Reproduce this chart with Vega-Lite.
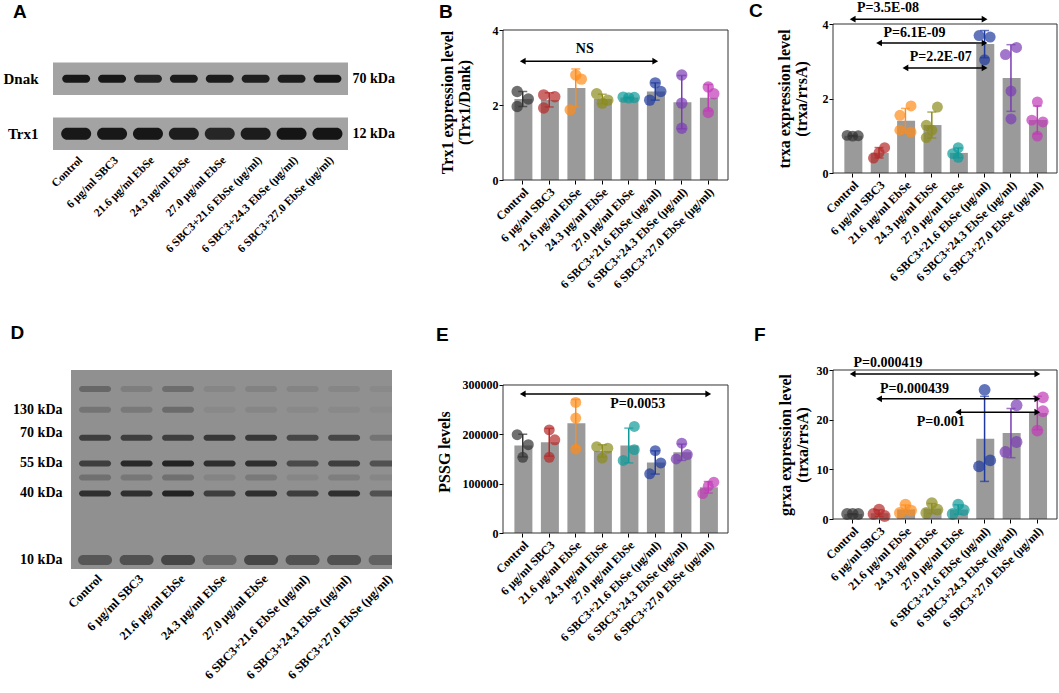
{
  "$schema": "https://vega.github.io/schema/vega-lite/v6.json",
  "background": "white",
  "padding": {"left": 0, "top": 0, "right": 0, "bottom": 0},
  "spacing": 33,
  "config": {
    "view": {"stroke": null},
    "font": "Liberation Serif",
    "axis": {
      "labelFont": "Liberation Serif", "labelFontWeight": "bold", "labelColor": "#000",
      "titleFont": "Liberation Serif", "titleFontWeight": "bold", "titleColor": "#000",
      "grid": false, "tickColor": "#000", "domainColor": "#000"
    },
    "axisX": {
      "labelAngle": -45,
      "labelExpr": "['Control','6 μg/ml SBC3','21.6 μg/ml EbSe','24.3 μg/ml EbSe','27.0 μg/ml EbSe','6 SBC3+21.6 EbSe (μg/ml)','6 SBC3+24.3 EbSe (μg/ml)','6 SBC3+27.0 EbSe (μg/ml)'][datum.value - 1]"
    },
    "title": {"font": "Liberation Sans", "fontSize": 19, "fontWeight": "bold", "anchor": "start", "frame": "bounds", "color": "#000"}
  },
  "vconcat": [
    {
      "bounds": "flush",
      "spacing": 0,
      "hconcat": [
        {"width": 53, "height": 1, "data": {"values": [{}]}, "mark": {"type": "point", "opacity": 0}, "encoding": {}},
        {
          "width": 295, "height": 126,
          "title": {"text": "A", "dx": 10, "offset": 2},
          "layer": [
            {
              "data": {"values": [{"protein": "Dnak"}, {"protein": "Trx1"}]},
              "mark": {"type": "rect", "fill": "#a3a3a3"},
              "encoding": {
                "y": {"field": "protein", "type": "nominal",
                  "scale": {"type": "band", "domain": ["Dnak", "Trx1"], "paddingInner": 0.409, "paddingOuter": 0.35, "align": 1},
                  "axis": null}
              }
            },
            {
              "data": {"values": [
                {"lane": 1, "protein": "Dnak", "i": 0.95}, {"lane": 2, "protein": "Dnak", "i": 0.95},
                {"lane": 3, "protein": "Dnak", "i": 0.88}, {"lane": 4, "protein": "Dnak", "i": 0.93},
                {"lane": 5, "protein": "Dnak", "i": 0.93}, {"lane": 6, "protein": "Dnak", "i": 0.9},
                {"lane": 7, "protein": "Dnak", "i": 0.93}, {"lane": 8, "protein": "Dnak", "i": 0.97}
              ]},
              "mark": {"type": "tick", "orient": "horizontal", "size": 28, "thickness": 8, "cornerRadius": 4, "color": "#111"},
              "encoding": {
                "x": {"field": "lane", "type": "ordinal", "scale": {"type": "point", "padding": 0.609, "align": 0.53},
                  "axis": {"title": null, "domain": false, "ticks": false, "labelFontSize": 11.5, "labelPadding": 4}},
                "y": {"field": "protein", "type": "nominal",
                  "axis": {"title": null, "ticks": false, "domain": false, "labelFontSize": 15, "labelPadding": 15}},
                "opacity": {"field": "i", "type": "quantitative", "scale": {"domain": [0, 1], "range": [0, 1]}, "legend": null}
              }
            },
            {
              "data": {"values": [
                {"lane": 1, "protein": "Trx1", "i": 0.95}, {"lane": 2, "protein": "Trx1", "i": 0.95},
                {"lane": 3, "protein": "Trx1", "i": 0.96}, {"lane": 4, "protein": "Trx1", "i": 0.92},
                {"lane": 5, "protein": "Trx1", "i": 0.85}, {"lane": 6, "protein": "Trx1", "i": 0.93},
                {"lane": 7, "protein": "Trx1", "i": 0.97}, {"lane": 8, "protein": "Trx1", "i": 0.97}
              ]},
              "mark": {"type": "tick", "orient": "horizontal", "size": 30, "thickness": 12, "cornerRadius": 6, "color": "#111"},
              "encoding": {
                "x": {"field": "lane", "type": "ordinal"},
                "y": {"field": "protein", "type": "nominal",
                  "axis": {"orient": "right", "title": null, "ticks": false, "domain": false, "labelFontSize": 14, "labelPadding": 4,
                    "labelExpr": "datum.value == 'Dnak' ? '70 kDa' : '12 kDa'"}},
                "opacity": {"field": "i", "type": "quantitative", "scale": {"domain": [0, 1], "range": [0, 1]}, "legend": null}
              }
            }
          ],
          "resolve": {"axis": {"y": "independent"}}
        },
        {"width": 155, "height": 1, "data": {"values": [{}]}, "mark": {"type": "point", "opacity": 0}, "encoding": {}},
        {
          "width": 225, "height": 156,
          "title": {"text": "B", "offset": 2},
          "data": {"values": [
            {"g": 1, "rep": "l", "v": 2.36}, {"g": 1, "rep": "r", "v": 2.16}, {"g": 1, "rep": "l", "v": 1.96},
            {"g": 2, "rep": "l", "v": 2.27}, {"g": 2, "rep": "r", "v": 2.22}, {"g": 2, "rep": "l", "v": 1.92},
            {"g": 3, "rep": "m", "v": 2.8}, {"g": 3, "rep": "r", "v": 2.69}, {"g": 3, "rep": "l", "v": 1.87},
            {"g": 4, "rep": "l", "v": 2.3}, {"g": 4, "rep": "r", "v": 2.13}, {"g": 4, "rep": "m", "v": 2.05},
            {"g": 5, "rep": "l", "v": 2.21}, {"g": 5, "rep": "m", "v": 2.19}, {"g": 5, "rep": "r", "v": 2.2},
            {"g": 6, "rep": "m", "v": 2.59}, {"g": 6, "rep": "r", "v": 2.36}, {"g": 6, "rep": "l", "v": 2.13},
            {"g": 7, "rep": "m", "v": 2.8}, {"g": 7, "rep": "m", "v": 2.05}, {"g": 7, "rep": "m", "v": 1.38},
            {"g": 8, "rep": "m", "v": 2.48}, {"g": 8, "rep": "r", "v": 2.3}, {"g": 8, "rep": "m", "v": 1.8}
          ]},
          "layer": [
            {
              "mark": {"type": "bar", "color": "#9a9a9a"},
              "encoding": {
                "x": {"field": "g", "type": "ordinal", "scale": {"type": "band", "domain": [1, 2, 3, 4, 5, 6, 7, 8], "paddingInner": 0.37, "paddingOuter": 0.43},
                  "axis": {"title": null, "domain": false, "tickSize": 4, "labelFontSize": 12, "labelPadding": 2}},
                "y": {"aggregate": "mean", "field": "v", "type": "quantitative", "scale": {"domain": [0, 4.16], "nice": false},
                  "title": ["Trx1 expression level", "(Trx1/Dank)"],
                  "axis": {"values": [0, 1, 2, 3, 4], "domain": false, "tickSize": 4, "labelPadding": 1, "labelFontSize": 12,
                    "titleFontSize": 16, "titleLineHeight": 17, "titlePadding": 20}}
              }
            },
            {
              "mark": {"type": "point", "filled": true, "size": 130, "opacity": 0.7},
              "encoding": {
                "x": {"field": "g", "type": "ordinal"},
                "xOffset": {"field": "rep", "type": "nominal", "scale": {"domain": ["l", "m", "r"], "paddingOuter": 0.5}},
                "y": {"field": "v", "type": "quantitative", "title": ["Trx1 expression level", "(Trx1/Dank)"]},
                "color": {"field": "g", "type": "ordinal", "legend": null,
                  "scale": {"domain": [1, 2, 3, 4, 5, 6, 7, 8], "range": ["#333333", "#b52a2a", "#ff8c1a", "#8c8c1e", "#0f9a9a", "#1f3a9e", "#7a3cb4", "#c23ab8"]}}
              }
            },
            {
              "mark": {"type": "errorbar", "extent": "stdev", "ticks": {"size": 9}, "thickness": 1.5},
              "encoding": {
                "x": {"field": "g", "type": "ordinal"},
                "y": {"field": "v", "type": "quantitative", "title": ["Trx1 expression level", "(Trx1/Dank)"]},
                "color": {"field": "g", "type": "ordinal", "legend": null}
              }
            },
            {
              "data": {"values": [{"from": 1, "to": 6, "ay": 3.17, "at": 3, "ty": 3.49, "label": "NS"}]},
              "layer": [
                {"mark": {"type": "rule", "strokeWidth": 1.5, "color": "#000"},
                  "encoding": {"x": {"field": "from", "type": "ordinal"}, "x2": {"field": "to"}, "y": {"field": "ay", "type": "quantitative"}}},
                {"mark": {"type": "point", "shape": "triangle-left", "filled": true, "size": 45, "color": "#000", "opacity": 1},
                  "encoding": {"x": {"field": "from", "type": "ordinal"}, "y": {"field": "ay", "type": "quantitative"}}},
                {"mark": {"type": "point", "shape": "triangle-right", "filled": true, "size": 45, "color": "#000", "opacity": 1},
                  "encoding": {"x": {"field": "to", "type": "ordinal"}, "y": {"field": "ay", "type": "quantitative"}}},
                {"mark": {"type": "text", "font": "Liberation Serif", "fontWeight": "bold", "fontSize": 14, "dx": 9},
                  "encoding": {"x": {"field": "at", "type": "ordinal"}, "y": {"field": "ty", "type": "quantitative"}, "text": {"field": "label"}}}
              ]
            },
            {
              "data": {"values": [{}]},
              "mark": {"type": "rect", "filled": false, "color": "#333", "strokeWidth": 1},
              "encoding": {"y": {"datum": 0, "type": "quantitative"}, "y2": {"datum": 4}}
            }
          ]
        },
        {"width": 105, "height": 1, "data": {"values": [{}]}, "mark": {"type": "point", "opacity": 0}, "encoding": {}},
        {
          "width": 224, "height": 149,
          "title": {"text": "C", "dx": -27, "offset": -20},
          "data": {"values": [
            {"g": 1, "rep": "l", "v": 1.01}, {"g": 1, "rep": "m", "v": 0.99}, {"g": 1, "rep": "r", "v": 1.0},
            {"g": 2, "rep": "r", "v": 0.68}, {"g": 2, "rep": "m", "v": 0.55}, {"g": 2, "rep": "l", "v": 0.4},
            {"g": 3, "rep": "r", "v": 1.8}, {"g": 3, "rep": "l", "v": 1.55}, {"g": 3, "rep": "l", "v": 1.15}, {"g": 3, "rep": "r", "v": 1.1},
            {"g": 4, "rep": "r", "v": 1.77}, {"g": 4, "rep": "l", "v": 1.28}, {"g": 4, "rep": "m", "v": 1.15}, {"g": 4, "rep": "l", "v": 0.95},
            {"g": 5, "rep": "m", "v": 0.68}, {"g": 5, "rep": "l", "v": 0.52}, {"g": 5, "rep": "m", "v": 0.42},
            {"g": 6, "rep": "l", "v": 3.69}, {"g": 6, "rep": "r", "v": 3.65}, {"g": 6, "rep": "m", "v": 3.04},
            {"g": 7, "rep": "r", "v": 3.37}, {"g": 7, "rep": "l", "v": 3.18}, {"g": 7, "rep": "m", "v": 2.2}, {"g": 7, "rep": "m", "v": 1.45},
            {"g": 8, "rep": "m", "v": 1.91}, {"g": 8, "rep": "l", "v": 1.42}, {"g": 8, "rep": "r", "v": 1.37}, {"g": 8, "rep": "m", "v": 0.99}
          ]},
          "layer": [
            {
              "mark": {"type": "bar", "color": "#9a9a9a"},
              "encoding": {
                "x": {"field": "g", "type": "ordinal", "scale": {"type": "band", "domain": [1, 2, 3, 4, 5, 6, 7, 8], "paddingInner": 0.37, "paddingOuter": 0.43},
                  "axis": {"title": null, "domain": false, "tickSize": 4, "labelFontSize": 12, "labelPadding": 2}},
                "y": {"aggregate": "mean", "field": "v", "type": "quantitative", "scale": {"domain": [0, 4], "nice": false},
                  "title": ["trxa expression level", "(trxa/rrsA)"],
                  "axis": {"values": [0, 1, 2, 3, 4], "domain": false, "tickSize": 4, "labelPadding": 1, "labelFontSize": 12,
                    "titleFontSize": 16, "titleLineHeight": 17, "titlePadding": 13}}
              }
            },
            {
              "mark": {"type": "point", "filled": true, "size": 120, "opacity": 0.7},
              "encoding": {
                "x": {"field": "g", "type": "ordinal"},
                "xOffset": {"field": "rep", "type": "nominal", "scale": {"domain": ["l", "m", "r"], "paddingOuter": 0.5}},
                "y": {"field": "v", "type": "quantitative", "title": ["trxa expression level", "(trxa/rrsA)"]},
                "color": {"field": "g", "type": "ordinal", "legend": null,
                  "scale": {"domain": [1, 2, 3, 4, 5, 6, 7, 8], "range": ["#333333", "#b52a2a", "#ff8c1a", "#8c8c1e", "#0f9a9a", "#1f3a9e", "#7a3cb4", "#c23ab8"]}}
              }
            },
            {
              "mark": {"type": "errorbar", "extent": "stdev", "ticks": {"size": 9}, "thickness": 1.5},
              "encoding": {
                "x": {"field": "g", "type": "ordinal"},
                "y": {"field": "v", "type": "quantitative", "title": ["trxa expression level", "(trxa/rrsA)"]},
                "color": {"field": "g", "type": "ordinal", "legend": null}
              }
            },
            {
              "data": {"values": [
                {"from": 1, "to": 6, "ay": 4.13, "at": 2, "ty": 4.43, "label": "P=3.5E-08"},
                {"from": 2, "to": 6, "ay": 3.49, "at": 3, "ty": 3.76, "label": "P=6.1E-09"},
                {"from": 3, "to": 6, "ay": 2.82, "at": 4, "ty": 3.11, "label": "P=2.2E-07"}
              ]},
              "layer": [
                {"mark": {"type": "rule", "strokeWidth": 1.5, "color": "#000"},
                  "encoding": {"x": {"field": "from", "type": "ordinal"}, "x2": {"field": "to"}, "y": {"field": "ay", "type": "quantitative"}}},
                {"mark": {"type": "point", "shape": "triangle-left", "filled": true, "size": 45, "color": "#000", "opacity": 1},
                  "encoding": {"x": {"field": "from", "type": "ordinal"}, "y": {"field": "ay", "type": "quantitative"}}},
                {"mark": {"type": "point", "shape": "triangle-right", "filled": true, "size": 45, "color": "#000", "opacity": 1},
                  "encoding": {"x": {"field": "to", "type": "ordinal"}, "y": {"field": "ay", "type": "quantitative"}}},
                {"mark": {"type": "text", "font": "Liberation Serif", "fontWeight": "bold", "fontSize": 14, "dx": 9},
                  "encoding": {"x": {"field": "at", "type": "ordinal"}, "y": {"field": "ty", "type": "quantitative"}, "text": {"field": "label"}}}
              ]
            },
            {
              "data": {"values": [{}]},
              "mark": {"type": "rect", "filled": false, "color": "#333", "strokeWidth": 1},
              "encoding": {"y": {"datum": 0, "type": "quantitative"}, "y2": {"datum": 4}}
            }
          ]
        }
      ]
    },
    {
      "bounds": "flush",
      "spacing": 0,
      "hconcat": [
        {"width": 71, "height": 1, "data": {"values": [{}]}, "mark": {"type": "point", "opacity": 0}, "encoding": {}},
        {
          "width": 321, "height": 199,
          "view": {"fill": "#909090"},
          "title": {"text": "D", "dx": -2, "offset": 27},
          "data": {"values": [
            {"lane": 1, "dist": 9.5, "i": 0.35}, {"lane": 2, "dist": 9.5, "i": 0.15}, {"lane": 3, "dist": 9.5, "i": 0.3}, {"lane": 4, "dist": 9.5, "i": 0.08},
            {"lane": 5, "dist": 9.5, "i": 0.12}, {"lane": 6, "dist": 9.5, "i": 0.1}, {"lane": 7, "dist": 9.5, "i": 0.08}, {"lane": 8, "dist": 9.5, "i": 0.06},
            {"lane": 1, "dist": 20, "i": 0.25}, {"lane": 2, "dist": 20, "i": 0.2}, {"lane": 3, "dist": 20, "i": 0.32}, {"lane": 4, "dist": 20, "i": 0.06},
            {"lane": 5, "dist": 20, "i": 0.08}, {"lane": 6, "dist": 20, "i": 0.06}, {"lane": 7, "dist": 20, "i": 0.06}, {"lane": 8, "dist": 20, "i": 0.04},
            {"lane": 1, "dist": 34, "i": 0.72}, {"lane": 2, "dist": 34, "i": 0.72}, {"lane": 3, "dist": 34, "i": 0.72}, {"lane": 4, "dist": 34, "i": 0.78},
            {"lane": 5, "dist": 34, "i": 0.78}, {"lane": 6, "dist": 34, "i": 0.65}, {"lane": 7, "dist": 34, "i": 0.65}, {"lane": 8, "dist": 34, "i": 0.25},
            {"lane": 1, "dist": 47, "i": 0.72}, {"lane": 2, "dist": 47, "i": 0.9}, {"lane": 3, "dist": 47, "i": 0.95}, {"lane": 4, "dist": 47, "i": 0.85},
            {"lane": 5, "dist": 47, "i": 0.85}, {"lane": 6, "dist": 47, "i": 0.62}, {"lane": 7, "dist": 47, "i": 0.72}, {"lane": 8, "dist": 47, "i": 0.55},
            {"lane": 1, "dist": 54, "i": 0.28}, {"lane": 2, "dist": 54, "i": 0.22}, {"lane": 3, "dist": 54, "i": 0.28}, {"lane": 4, "dist": 54, "i": 0.1},
            {"lane": 5, "dist": 54, "i": 0.2}, {"lane": 6, "dist": 54, "i": 0.08}, {"lane": 7, "dist": 54, "i": 0.15}, {"lane": 8, "dist": 54, "i": 0.08},
            {"lane": 1, "dist": 62, "i": 0.85}, {"lane": 2, "dist": 62, "i": 0.85}, {"lane": 3, "dist": 62, "i": 0.95}, {"lane": 4, "dist": 62, "i": 0.72},
            {"lane": 5, "dist": 62, "i": 0.85}, {"lane": 6, "dist": 62, "i": 0.72}, {"lane": 7, "dist": 62, "i": 0.85}, {"lane": 8, "dist": 62, "i": 0.55},
            {"lane": 1, "dist": 95.5, "i": 0.5}, {"lane": 2, "dist": 95.5, "i": 0.55}, {"lane": 3, "dist": 95.5, "i": 0.65}, {"lane": 4, "dist": 95.5, "i": 0.35},
            {"lane": 5, "dist": 95.5, "i": 0.65}, {"lane": 6, "dist": 95.5, "i": 0.55}, {"lane": 7, "dist": 95.5, "i": 0.55}, {"lane": 8, "dist": 95.5, "i": 0.4}
          ]},
          "layer": [
            {
              "transform": [{"filter": "datum.dist < 90"}],
              "mark": {"type": "tick", "orient": "horizontal", "size": 32, "thickness": 6, "cornerRadius": 3, "color": "#1e1e1e", "clip": true},
              "encoding": {
                "x": {"field": "lane", "type": "ordinal", "scale": {"type": "point", "padding": 0.367, "align": 0.79},
                  "axis": {"title": null, "domain": false, "ticks": false, "labelFontSize": 12.5, "labelPadding": 3}},
                "y": {"field": "dist", "type": "quantitative", "scale": {"domain": [0, 100], "reverse": true, "nice": false},
                  "axis": {"title": null, "domain": false, "ticks": false, "labelFontSize": 14, "labelPadding": 9,
                    "values": [19.6, 31.2, 46.7, 61.8, 95],
                    "labelExpr": "datum.value == 19.6 ? '130 kDa' : datum.value == 31.2 ? '70 kDa' : datum.value == 46.7 ? '55 kDa' : datum.value == 61.8 ? '40 kDa' : '10 kDa'"}},
                "opacity": {"field": "i", "type": "quantitative", "scale": {"domain": [0, 1], "range": [0, 1]}, "legend": null}
              }
            },
            {
              "transform": [{"filter": "datum.dist >= 90"}],
              "mark": {"type": "tick", "orient": "horizontal", "size": 34, "thickness": 10, "cornerRadius": 5, "color": "#1e1e1e", "clip": true},
              "encoding": {
                "x": {"field": "lane", "type": "ordinal"},
                "y": {"field": "dist", "type": "quantitative"},
                "opacity": {"field": "i", "type": "quantitative", "scale": {"domain": [0, 1], "range": [0, 1]}, "legend": null}
              }
            }
          ]
        },
        {"width": 111, "height": 1, "data": {"values": [{}]}, "mark": {"type": "point", "opacity": 0}, "encoding": {}},
        {
          "width": 225, "height": 163,
          "title": {"text": "E", "offset": 25},
          "data": {"values": [
            {"g": 1, "rep": "l", "v": 199300}, {"g": 1, "rep": "r", "v": 179000}, {"g": 1, "rep": "m", "v": 153500},
            {"g": 2, "rep": "m", "v": 209000}, {"g": 2, "rep": "r", "v": 189000}, {"g": 2, "rep": "m", "v": 153500},
            {"g": 3, "rep": "m", "v": 264600}, {"g": 3, "rep": "m", "v": 233000}, {"g": 3, "rep": "m", "v": 170000},
            {"g": 4, "rep": "l", "v": 175000}, {"g": 4, "rep": "r", "v": 172000}, {"g": 4, "rep": "m", "v": 152000},
            {"g": 5, "rep": "r", "v": 216000}, {"g": 5, "rep": "r", "v": 169000}, {"g": 5, "rep": "l", "v": 147000},
            {"g": 6, "rep": "m", "v": 167000}, {"g": 6, "rep": "r", "v": 142000}, {"g": 6, "rep": "l", "v": 120000},
            {"g": 7, "rep": "m", "v": 182000}, {"g": 7, "rep": "r", "v": 159000}, {"g": 7, "rep": "l", "v": 150000},
            {"g": 8, "rep": "r", "v": 103000}, {"g": 8, "rep": "m", "v": 95000}, {"g": 8, "rep": "l", "v": 80000}
          ]},
          "layer": [
            {
              "mark": {"type": "bar", "color": "#9a9a9a"},
              "encoding": {
                "x": {"field": "g", "type": "ordinal", "scale": {"type": "band", "domain": [1, 2, 3, 4, 5, 6, 7, 8], "paddingInner": 0.37, "paddingOuter": 0.43},
                  "axis": {"title": null, "domain": false, "tickSize": 4, "labelFontSize": 12, "labelPadding": 2}},
                "y": {"aggregate": "mean", "field": "v", "type": "quantitative", "scale": {"domain": [0, 330405], "nice": false},
                  "title": "PSSG levels",
                  "axis": {"values": [0, 100000, 200000, 300000], "format": "d", "domain": false, "tickSize": 4, "labelPadding": 1, "labelFontSize": 12,
                    "titleFontSize": 16, "titlePadding": 10}}
              }
            },
            {
              "mark": {"type": "point", "filled": true, "size": 120, "opacity": 0.7},
              "encoding": {
                "x": {"field": "g", "type": "ordinal"},
                "xOffset": {"field": "rep", "type": "nominal", "scale": {"domain": ["l", "m", "r"], "paddingOuter": 0.5}},
                "y": {"field": "v", "type": "quantitative", "title": "PSSG levels"},
                "color": {"field": "g", "type": "ordinal", "legend": null,
                  "scale": {"domain": [1, 2, 3, 4, 5, 6, 7, 8], "range": ["#333333", "#b52a2a", "#ff8c1a", "#8c8c1e", "#0f9a9a", "#1f3a9e", "#7a3cb4", "#c23ab8"]}}
              }
            },
            {
              "mark": {"type": "errorbar", "extent": "stdev", "ticks": {"size": 9}, "thickness": 1.5},
              "encoding": {
                "x": {"field": "g", "type": "ordinal"},
                "y": {"field": "v", "type": "quantitative", "title": "PSSG levels"},
                "color": {"field": "g", "type": "ordinal", "legend": null}
              }
            },
            {
              "data": {"values": [{"from": 1, "to": 8, "ay": 281800, "at": 5, "ty": 261500, "label": "P=0.0053"}]},
              "layer": [
                {"mark": {"type": "rule", "strokeWidth": 1.5, "color": "#000"},
                  "encoding": {"x": {"field": "from", "type": "ordinal"}, "x2": {"field": "to"}, "y": {"field": "ay", "type": "quantitative"}}},
                {"mark": {"type": "point", "shape": "triangle-left", "filled": true, "size": 45, "color": "#000", "opacity": 1},
                  "encoding": {"x": {"field": "from", "type": "ordinal"}, "y": {"field": "ay", "type": "quantitative"}}},
                {"mark": {"type": "point", "shape": "triangle-right", "filled": true, "size": 45, "color": "#000", "opacity": 1},
                  "encoding": {"x": {"field": "to", "type": "ordinal"}, "y": {"field": "ay", "type": "quantitative"}}},
                {"mark": {"type": "text", "font": "Liberation Serif", "fontWeight": "bold", "fontSize": 14, "dx": 9},
                  "encoding": {"x": {"field": "at", "type": "ordinal"}, "y": {"field": "ty", "type": "quantitative"}, "text": {"field": "label"}}}
              ]
            },
            {
              "data": {"values": [{}]},
              "mark": {"type": "rect", "filled": false, "color": "#333", "strokeWidth": 1},
              "encoding": {"y": {"datum": 0, "type": "quantitative"}, "y2": {"datum": 300000}}
            }
          ]
        },
        {"width": 105, "height": 1, "data": {"values": [{}]}, "mark": {"type": "point", "opacity": 0}, "encoding": {}},
        {
          "width": 224, "height": 149,
          "title": {"text": "F", "dx": -23, "offset": 11},
          "data": {"values": [
            {"g": 1, "rep": "l", "v": 1.0}, {"g": 1, "rep": "m", "v": 1.0}, {"g": 1, "rep": "r", "v": 1.0},
            {"g": 2, "rep": "m", "v": 1.9}, {"g": 2, "rep": "l", "v": 1.0}, {"g": 2, "rep": "r", "v": 0.6},
            {"g": 3, "rep": "m", "v": 2.9}, {"g": 3, "rep": "r", "v": 1.7}, {"g": 3, "rep": "l", "v": 1.2},
            {"g": 4, "rep": "m", "v": 3.2}, {"g": 4, "rep": "r", "v": 1.9}, {"g": 4, "rep": "l", "v": 1.2},
            {"g": 5, "rep": "m", "v": 2.9}, {"g": 5, "rep": "r", "v": 1.8}, {"g": 5, "rep": "l", "v": 1.0},
            {"g": 6, "rep": "m", "v": 26.0}, {"g": 6, "rep": "r", "v": 11.8}, {"g": 6, "rep": "l", "v": 10.6},
            {"g": 7, "rep": "r", "v": 22.9}, {"g": 7, "rep": "r", "v": 15.5}, {"g": 7, "rep": "l", "v": 13.5},
            {"g": 8, "rep": "r", "v": 24.5}, {"g": 8, "rep": "r", "v": 21.7}, {"g": 8, "rep": "m", "v": 17.8}
          ]},
          "layer": [
            {
              "mark": {"type": "bar", "color": "#9a9a9a"},
              "encoding": {
                "x": {"field": "g", "type": "ordinal", "scale": {"type": "band", "domain": [1, 2, 3, 4, 5, 6, 7, 8], "paddingInner": 0.37, "paddingOuter": 0.43},
                  "axis": {"title": null, "domain": false, "tickSize": 4, "labelFontSize": 12, "labelPadding": 2}},
                "y": {"aggregate": "mean", "field": "v", "type": "quantitative", "scale": {"domain": [0, 30], "nice": false},
                  "title": ["grxa expression level", "(trxa/rrsA)"],
                  "axis": {"values": [0, 10, 20, 30], "domain": false, "tickSize": 4, "labelPadding": 1, "labelFontSize": 12,
                    "titleFontSize": 16, "titleLineHeight": 17, "titlePadding": 6}}
              }
            },
            {
              "mark": {"type": "point", "filled": true, "size": 140, "opacity": 0.7},
              "encoding": {
                "x": {"field": "g", "type": "ordinal"},
                "xOffset": {"field": "rep", "type": "nominal", "scale": {"domain": ["l", "m", "r"], "paddingOuter": 0.5}},
                "y": {"field": "v", "type": "quantitative", "title": ["grxa expression level", "(trxa/rrsA)"]},
                "color": {"field": "g", "type": "ordinal", "legend": null,
                  "scale": {"domain": [1, 2, 3, 4, 5, 6, 7, 8], "range": ["#333333", "#b52a2a", "#ff8c1a", "#8c8c1e", "#0f9a9a", "#1f3a9e", "#7a3cb4", "#c23ab8"]}}
              }
            },
            {
              "mark": {"type": "errorbar", "extent": "stdev", "ticks": {"size": 9}, "thickness": 1.5},
              "encoding": {
                "x": {"field": "g", "type": "ordinal"},
                "y": {"field": "v", "type": "quantitative", "title": ["grxa expression level", "(trxa/rrsA)"]},
                "color": {"field": "g", "type": "ordinal", "legend": null}
              }
            },
            {
              "data": {"values": [
                {"from": 1, "to": 8, "ay": 29.2, "at": 2, "ty": 31.4, "label": "P=0.000419"},
                {"from": 2, "to": 8, "ay": 24.2, "at": 3, "ty": 26.2, "label": "P=0.000439"},
                {"from": 5, "to": 8, "ay": 21.5, "at": 4, "ty": 19.5, "label": "P=0.001"}
              ]},
              "layer": [
                {"mark": {"type": "rule", "strokeWidth": 1.5, "color": "#000"},
                  "encoding": {"x": {"field": "from", "type": "ordinal"}, "x2": {"field": "to"}, "y": {"field": "ay", "type": "quantitative"}}},
                {"mark": {"type": "point", "shape": "triangle-left", "filled": true, "size": 45, "color": "#000", "opacity": 1},
                  "encoding": {"x": {"field": "from", "type": "ordinal"}, "y": {"field": "ay", "type": "quantitative"}}},
                {"mark": {"type": "point", "shape": "triangle-right", "filled": true, "size": 45, "color": "#000", "opacity": 1},
                  "encoding": {"x": {"field": "to", "type": "ordinal"}, "y": {"field": "ay", "type": "quantitative"}}},
                {"mark": {"type": "text", "font": "Liberation Serif", "fontWeight": "bold", "fontSize": 14, "dx": 9},
                  "encoding": {"x": {"field": "at", "type": "ordinal"}, "y": {"field": "ty", "type": "quantitative"}, "text": {"field": "label"}}}
              ]
            },
            {
              "data": {"values": [{}]},
              "mark": {"type": "rect", "filled": false, "color": "#333", "strokeWidth": 1},
              "encoding": {"y": {"datum": 0, "type": "quantitative"}, "y2": {"datum": 30}}
            }
          ]
        }
      ]
    }
  ]
}
